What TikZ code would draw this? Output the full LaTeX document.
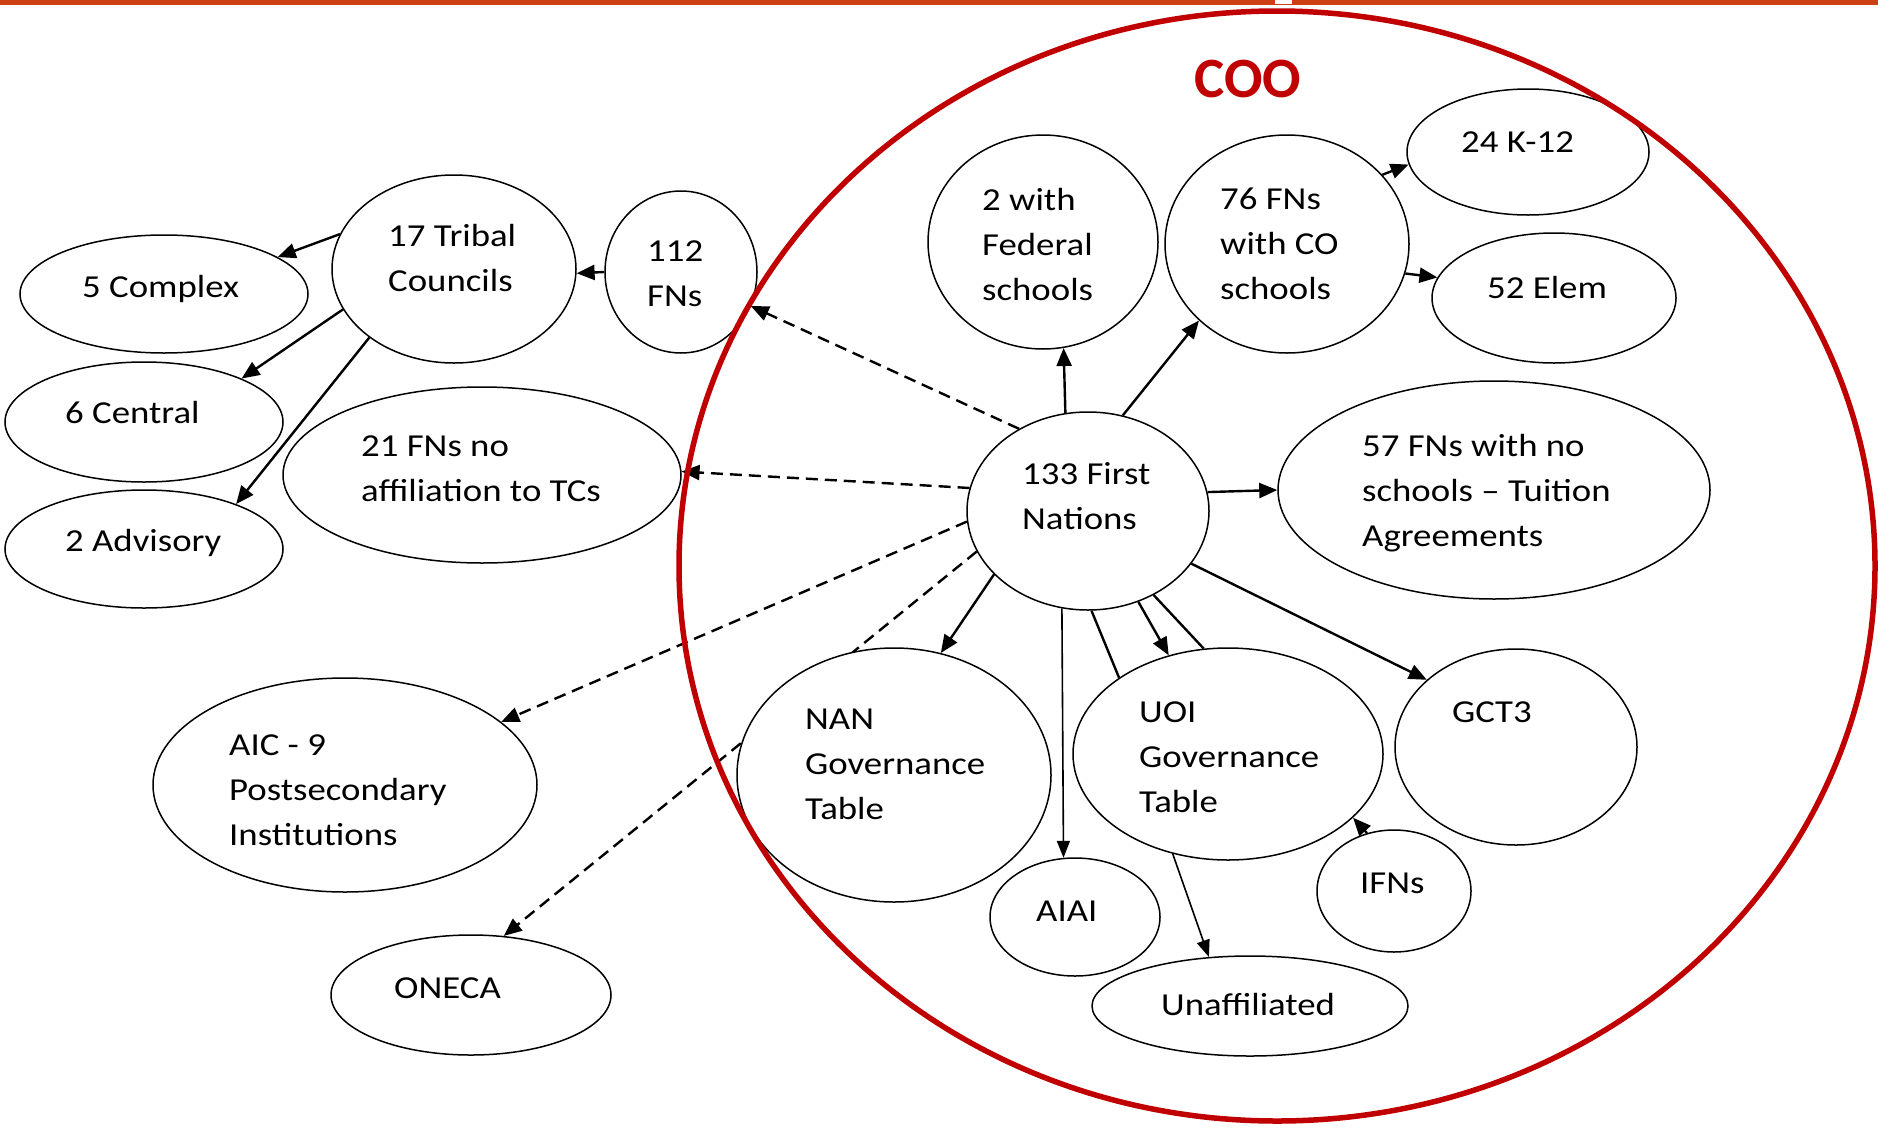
\documentclass[tikz,border=0pt]{standalone}
\usepackage{fontspec}
\setmainfont{Carlito}[FakeStretch=1.15]
\newfontfamily\coofont{Carlito}
\usetikzlibrary{arrows.meta,shapes.geometric}
\pgfdeclarelayer{bg}
\pgfsetlayers{bg,main}
\definecolor{cooRed}{RGB}{192,0,0}
\definecolor{barOrange}{RGB}{205,64,20}
\newcommand\mylines[1]{\begin{tabular}[t]{@{}l@{}}#1\end{tabular}}
\begin{document}
\begin{tikzpicture}[x=1pt,y=-1pt,
  bubble/.style={draw=black, line width=1.5pt, fill=white, ellipse, inner sep=0pt},
  lbl/.style={anchor=base west, inner sep=0pt, font=\fontsize{32}{45}\selectfont, text=black},
  arr/.style={line width=2.4pt, -{Triangle[length=18pt,width=15pt]}},
  thinarr/.style={line width=1.6pt, -{Triangle[length=17pt,width=13pt]}},
  darr/.style={arr, dash pattern=on 12pt off 7pt},
  plainline/.style={line width=2.4pt}
]
\useasboundingbox (0,0) rectangle (1878,1127);
\fill[barOrange] (0,0) rectangle (1878,5);
\fill[white] (1275,0) rectangle (1292,4);

% ellipses
\node[bubble, minimum width=288pt, minimum height=118pt] (cx5) at (164,294) {};
\node[bubble, minimum width=244pt, minimum height=188pt] (tc) at (454,269) {};
\node[bubble, minimum width=152pt, minimum height=162pt] (f112) at (681,272) {};
\node[bubble, minimum width=278pt, minimum height=120pt] (cen) at (144,422) {};
\node[bubble, minimum width=278pt, minimum height=118pt] (adv) at (144,549) {};
\node[bubble, minimum width=398pt, minimum height=176pt] (aff) at (482,475) {};
\node[bubble, minimum width=230pt, minimum height=214pt] (fed) at (1043,242) {};
\node[bubble, minimum width=244pt, minimum height=218pt] (co) at (1287,244) {};
\node[bubble, minimum width=242pt, minimum height=126pt] (k12) at (1528,152) {};
\node[bubble, minimum width=244pt, minimum height=130pt] (elem) at (1554,298) {};
\node[bubble, minimum width=242pt, minimum height=198pt] (fn) at (1088,511) {};
\node[bubble, minimum width=432pt, minimum height=218pt] (tui) at (1494,490) {};
\node[bubble, minimum width=314pt, minimum height=254pt] (nan) at (894,775) {};
\node[bubble, minimum width=170pt, minimum height=118pt] (aiai) at (1075,917) {};
\node[bubble, minimum width=310pt, minimum height=212pt] (uoi) at (1228,754) {};
\node[bubble, minimum width=242pt, minimum height=196pt] (gct) at (1516,747) {};
\node[bubble, minimum width=154pt, minimum height=122pt] (ifn) at (1394,891) {};
\node[bubble, minimum width=316pt, minimum height=100pt] (unaf) at (1250,1006) {};
\node[bubble, minimum width=384pt, minimum height=214pt] (aic) at (345,785) {};
\node[bubble, minimum width=280pt, minimum height=120pt] (oneca) at (471,995) {};

% connectors (behind the bubbles)
\begin{pgfonlayer}{bg}
\draw[arr] (tc.163.5) -- (cx5.18);
\draw[arr] (tc.200) -- (cen.24.4);
\draw[arr] (tc.219.4) -- (adv.26.8);
\draw[arr] (f112.180) -- (tc.358);
\draw[darr] (fn.130.5) -- (f112.334.3);
\draw[darr] (fn.169.9) -- (aff.1);
\draw[darr] (fn.185.7) -- (aic.22.9);
\draw[darr] (fn.200.7) -- (oneca.61.2);
\draw[arr] (fn.103.6) -- (fed.281.2);
\draw[arr] (fn.70.9) -- (co.221.7);
\draw[arr] (fn.9.9) -- (tui.180);
\draw[arr] (fn.333.6) -- (gct.143.9);
\draw[arr] (fn.214.9) -- (nan.69);
\draw[thinarr] (fn.255.7) -- (aiai.101.5);
\draw[arr] (fn.299.4) -- (uoi.121.3);
\draw[plainline] (fn.272.9) -- (uoi.145.3);
\draw[plainline] (fn.308.4) -- (uoi.103.3);
\draw[thinarr] (uoi.241.9) -- (unaf.130.6);
\draw[arr] (ifn.115.4) -- (uoi.333.1);
\draw[arr] (co.36.6) -- (k12.186.7);
\draw[arr] (co.346.7) -- (elem.170.6);
\end{pgfonlayer}

% COO frame
\draw[cooRed, line width=5.5pt] (1277,566) ellipse [x radius=598pt, y radius=555pt];
\node[anchor=base, inner sep=0pt, text=cooRed, font=\coofont\bfseries\fontsize{57}{60}\selectfont] (coo) at (1248,97) {COO};

% labels
\node[lbl] (cx5-t) at (82,297) {5 Complex};
\node[lbl] (tc-t) at (388,246) {\mylines{17 Tribal\\Councils}};
\node[lbl] (f112-t) at (647,261) {\mylines{112\\FNs}};
\node[lbl] (cen-t) at (65,423) {6 Central};
\node[lbl] (adv-t) at (65,551) {2 Advisory};
\node[lbl] (aff-t) at (361,456) {\mylines{21 FNs no\\affiliation to TCs}};
\node[lbl] (fed-t) at (982,210) {\mylines{2 with\\Federal\\schools}};
\node[lbl] (co-t) at (1220,209) {\mylines{76 FNs\\with CO\\schools}};
\node[lbl] (k12-t) at (1461,152) {24 K-12};
\node[lbl] (elem-t) at (1487,298) {52 Elem};
\node[lbl] (fn-t) at (1022,484) {\mylines{133 First\\Nations}};
\node[lbl] (tui-t) at (1362,456) {\mylines{57 FNs with no\\schools -- Tuition\\Agreements}};
\node[lbl] (nan-t) at (805,729) {\mylines{NAN\\Governance\\Table}};
\node[lbl] (uoi-t) at (1139,722) {\mylines{UOI\\Governance\\Table}};
\node[lbl] (gct-t) at (1452,722) {GCT3};
\node[lbl] (aiai-t) at (1036,921) {AIAI};
\node[lbl] (ifn-t) at (1360,893) {IFNs};
\node[lbl] (unaf-t) at (1161,1015) {Unaffiliated};
\node[lbl] (aic-t) at (229,755) {\mylines{AIC - 9\\Postsecondary\\Institutions}};
\node[lbl] (oneca-t) at (394,998) {ONECA};
\end{tikzpicture}
\end{document}
